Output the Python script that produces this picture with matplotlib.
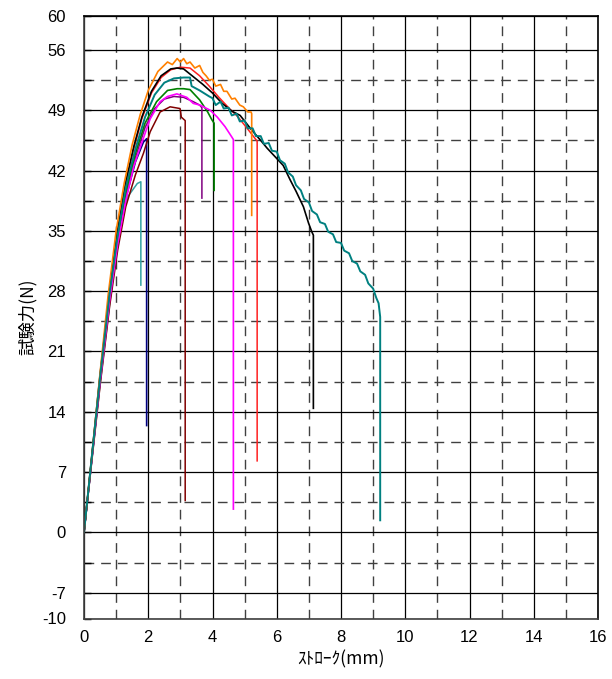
import numpy as np
import matplotlib
matplotlib.use("Agg")
import matplotlib.pyplot as plt
from matplotlib.ticker import MultipleLocator, FixedLocator

plt.rcParams['font.family'] = ['Liberation Sans', 'DejaVu Sans']
plt.rcParams['axes.unicode_minus'] = False

# Stroke (mm) / force (N) curves
navy_x = [0, 0.5, 0.8, 1.05, 1.3, 1.6, 1.85, 1.95, 1.95]
navy_y = [0, 17.6, 27.2, 33.8, 38.8, 43.0, 45.3, 45.7, 12.4]

ltteal_x = [0, 0.5, 0.8, 1.04, 1.35, 1.66, 1.77, 1.77]
ltteal_y = [0, 17.2, 26.5, 34.3, 38.9, 40.5, 40.7, 28.7]

maroon_x = [0, 0.5, 0.8, 1.05, 1.3, 1.6, 1.85, 2.06, 2.37, 2.68, 2.99, 3.03, 3.15, 3.15]
maroon_y = [0, 17.0, 26.3, 32.8, 37.8, 41.5, 44.0, 46.5, 48.8, 49.4, 49.2, 48.2, 47.8, 3.7]

purple_x = [0, 0.5, 0.8, 1.05, 1.3, 1.6, 1.9, 2.2, 2.5, 2.8, 3.1, 3.4, 3.6, 3.67, 3.67]
purple_y = [0, 17.6, 27.2, 33.8, 39.0, 43.5, 47.0, 49.2, 50.3, 50.6, 50.5, 50.0, 49.6, 49.3, 38.8]

green_x = [0, 0.5, 0.8, 1.05, 1.3, 1.6, 1.9, 2.26, 2.6, 2.9, 3.1, 3.3, 3.6, 3.85, 3.98, 4.05, 4.05]
green_y = [0, 17.8, 27.5, 34.0, 39.5, 44.0, 47.5, 50.0, 51.3, 51.5, 51.5, 51.4, 50.2, 48.8, 47.9, 47.5, 39.7]

magenta_x = [0, 0.5, 0.8, 1.05, 1.3, 1.55, 1.74, 2.06, 2.37, 2.6, 2.89, 3.2, 3.4, 3.61, 3.93,
             4.15, 4.39, 4.6, 4.65, 4.65]
magenta_y = [0, 17.5, 27.0, 33.5, 38.5, 42.5, 44.6, 48.0, 50.0, 50.6, 50.9, 50.5, 49.8, 49.6, 49.0,
             48.2, 47.1, 45.9, 45.6, 2.7]

red_x = [0, 0.5, 0.8, 1.05, 1.3, 1.55, 1.8, 2.1, 2.4, 2.7, 3.0, 3.3, 3.6, 3.9, 4.2, 4.5, 4.8,
         5.1, 5.35, 5.39, 5.39]
red_y = [0, 18.0, 28.0, 35.0, 40.5, 44.5, 48.0, 51.0, 52.8, 53.7, 54.0, 53.9, 53.0, 51.8, 50.5,
         49.3, 48.2, 46.8, 45.6, 45.4, 8.3]

black_x = [0, 0.5, 0.8, 1.05, 1.3, 1.55, 1.8, 2.1, 2.4, 2.7, 2.9, 3.1, 3.4, 3.7, 4.0, 4.3, 4.6,
           4.86, 5.2, 5.5, 5.7, 6.0, 6.2, 6.42, 6.6, 6.83, 6.99, 7.09, 7.14, 7.14]
black_y = [0, 18.3, 28.2, 35.2, 40.7, 44.8, 48.2, 51.2, 53.0, 53.8, 53.9, 53.8, 52.9, 52.0, 51.0,
           49.8, 48.9, 48.4, 46.8, 45.5, 44.6, 43.4, 42.6, 40.9, 39.6, 37.8, 35.9, 34.9, 34.5, 14.4]

orange_x = [0, 0.25, 0.5, 0.75, 1.0, 1.25, 1.5, 1.75, 2.0, 2.3, 2.6, 2.75, 2.9, 3.0, 3.1, 3.2,
            3.3, 3.45, 3.6, 3.7, 3.8, 3.9, 4.0, 4.1, 4.25, 4.35, 4.45, 4.6, 4.7, 4.85, 4.96,
            5.1, 5.2, 5.22, 5.22]
orange_y = [0, 9.0, 18.5, 27.5, 35.0, 40.5, 45.0, 48.5, 51.3, 53.5, 54.6, 54.3, 55.0, 54.6,
            55.0, 54.4, 54.6, 53.9, 54.2, 53.4, 53.0, 52.5, 52.6, 51.8, 52.0, 51.2, 51.2, 50.3,
            50.4, 49.6, 49.4, 48.8, 48.8, 48.6, 36.8]

teal_x = [0, 0.5, 0.8, 1.05, 1.3, 1.6, 1.9, 2.2, 2.5, 2.8, 3.1, 3.3, 3.35, 3.6, 3.9, 4.0, 4.1,
          4.25, 4.35, 4.5, 4.6, 4.75, 4.85, 5.0, 5.1, 5.25, 5.35, 5.5, 5.6, 5.75, 5.85, 6.0,
          6.1, 6.25, 6.35, 6.5, 6.6, 6.75, 6.85, 7.0, 7.1, 7.25, 7.35, 7.5, 7.6, 7.75, 7.85,
          8.0, 8.1, 8.25, 8.35, 8.5, 8.6, 8.75, 8.85, 9.0, 9.1, 9.17, 9.22, 9.22]
teal_y = [0, 18.0, 27.8, 34.5, 40.0, 44.5, 48.2, 50.8, 52.2, 52.7, 52.8, 52.8, 51.8, 51.3, 50.6,
          50.4, 49.6, 50.0, 49.2, 49.3, 48.4, 48.6, 47.7, 47.8, 46.9, 46.9, 46.0, 46.0, 45.1,
          45.2, 44.3, 44.2, 43.2, 42.8, 41.8, 41.3, 40.3, 39.7, 38.7, 38.3, 37.3, 36.9, 36.0,
          35.8, 34.9, 34.6, 33.7, 33.6, 32.7, 32.4, 31.5, 31.2, 30.3, 29.9, 28.9, 28.3, 27.2,
          26.6, 25.0, 1.4]

series = [
    (navy_x, navy_y, '#000080', 1.2),
    (ltteal_x, ltteal_y, '#33a3a3', 1.1),
    (maroon_x, maroon_y, '#800000', 1.1),
    (purple_x, purple_y, '#800080', 1.1),
    (green_x, green_y, '#008000', 1.2),
    (magenta_x, magenta_y, '#ff00ff', 1.2),
    (red_x, red_y, '#ff2020', 1.1),
    (black_x, black_y, '#000000', 1.2),
    (orange_x, orange_y, '#ff8000', 1.2),
    (teal_x, teal_y, '#008080', 1.4),
]

y_major = [-10, -7, 0, 7, 14, 21, 28, 35, 42, 49, 56, 60]
y_minor = [-3.5, 3.5, 10.5, 17.5, 24.5, 31.5, 38.5, 45.5, 52.5]

fig = plt.figure(figsize=(6.12, 6.79), dpi=100)
ax = fig.add_axes([84 / 612, 1 - 618.5 / 679, 514 / 612, 603 / 679])

for x, y, c, lw in series:
    ax.plot(x, y, color=c, linewidth=lw)

ax.set_xlim(0, 16)
ax.set_ylim(-10, 60)
ax.xaxis.set_major_locator(MultipleLocator(2))
ax.xaxis.set_minor_locator(MultipleLocator(1))
ax.yaxis.set_major_locator(FixedLocator(y_major))
ax.yaxis.set_minor_locator(FixedLocator(y_minor))

ax.grid(which='major', color='black', linestyle='-', linewidth=0.9)
ax.grid(which='minor', color='#404040', linestyle=(0, (7, 5)), linewidth=1.0)
ax.set_axisbelow(True)

ax.tick_params(which='both', direction='in', length=5, width=1, labelsize=12, pad=13)
ax.tick_params(axis='x', which='both', length=0, pad=8)
for s in ax.spines.values():
    s.set_linewidth(1.2)
ax.spines['left'].set_color('#404040')
ax.spines['bottom'].set_color('#404040')

ax.set_xlabel('ｽﾄﾛｰｸ(mm)', family=['Noto Sans CJK JP'], fontsize=12.5, labelpad=4)
ax.set_ylabel('試験力(N)', family=['Noto Sans CJK JP'], fontsize=12.5)
ax.yaxis.set_label_coords(-0.092, 0.5)

fig.savefig('out.png', dpi=100)
